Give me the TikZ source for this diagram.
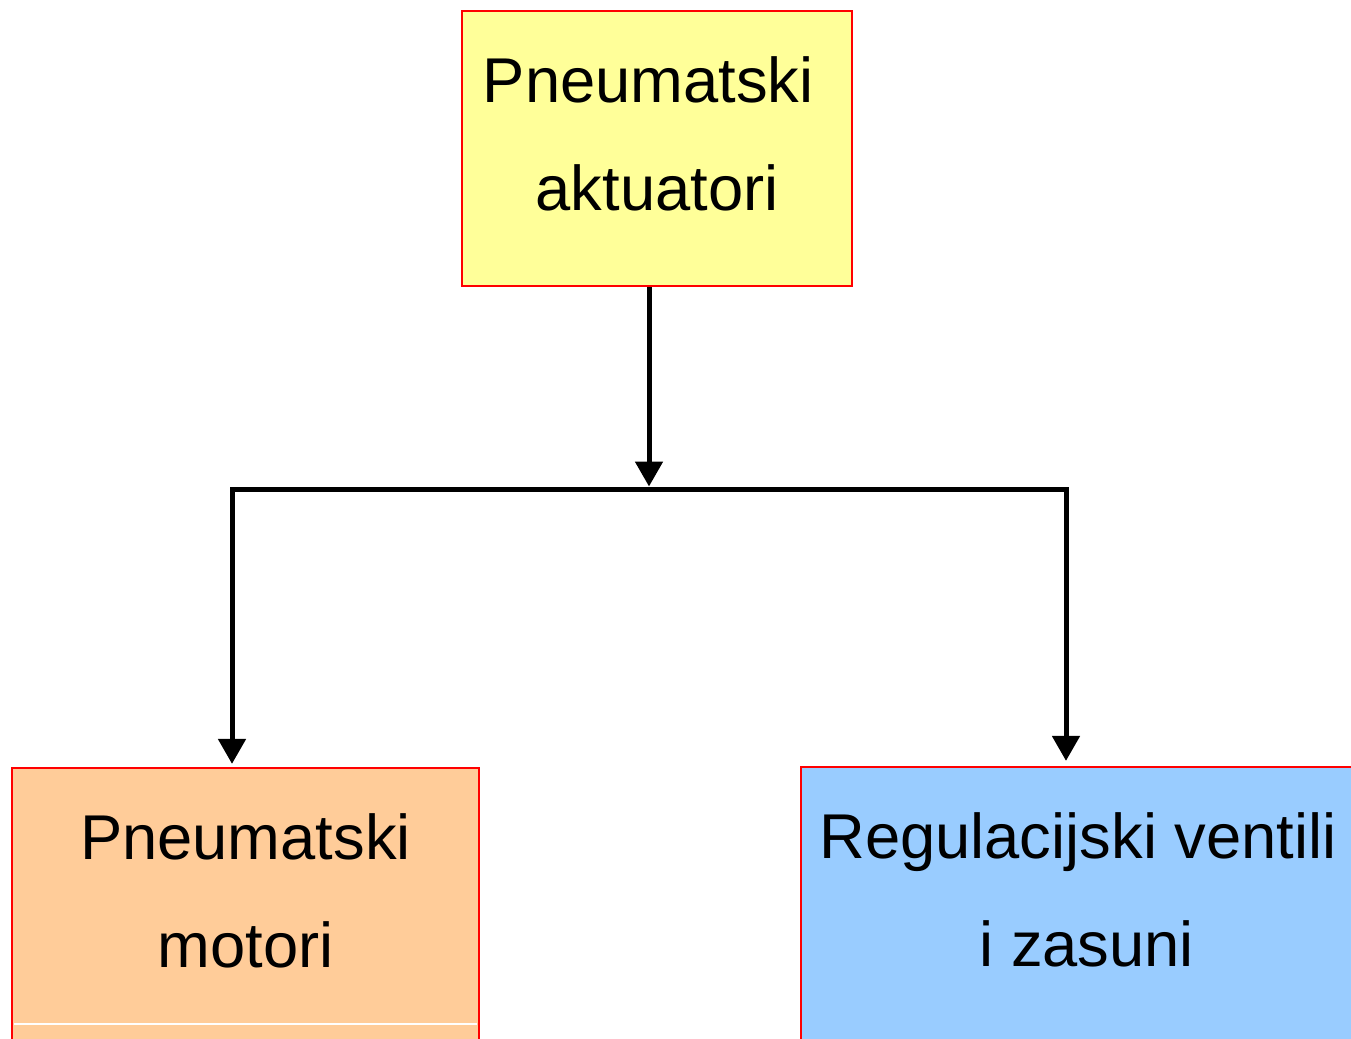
\documentclass[tikz,border=0pt]{standalone}
\usepackage{fontspec}
\setmainfont{Liberation Sans}
\usetikzlibrary{
  arrows.meta
}
\definecolor{boxyellow}{HTML}{FFFF99}
\definecolor{boxorange}{HTML}{FFCC99}
\definecolor{boxblue}{HTML}{99CCFF}
\newcommand\deepstrut{\rule[-0.30cm]{0pt}{0.30cm}}

\begin{document}
\begin{tikzpicture}[
  x=0.01cm,
  y=-0.01cm,
  box/.style={draw=red, line width=0.6pt, align=center, minimum height=2.75cm,
    font=\fontsize{18}{30.7}\selectfont},
  link/.style={line width=0.05cm},
  arr/.style={link, -{Triangle[length=0.25cm,width=0.27cm]}},
]
\clip (0,0) rectangle (1351,1038);
\node[box, fill=boxyellow, minimum width=3.9cm] (aktuatori) at (657,148.5) {Pneumatski\hphantom{\ }\\aktuatori\deepstrut};
\node[box, fill=boxorange, minimum width=4.67cm] (motori) at (245.5,905.5) {Pneumatski\\motori\deepstrut};
\node[box, fill=boxblue, minimum width=5.54cm] (ventili) at (1078,904.5) {Regulacijski ventili\\\hphantom{\ }i zasuni\deepstrut};
\draw[white, line width=0.4pt] (14,1024) -- (477,1024);
\coordinate (fork) at (649,489);
\coordinate (forkl) at (232,489);
\coordinate (forkr) at (1066,489);
\draw[arr, shorten >=0.025cm] (fork |- aktuatori.south) -- (fork);
\draw[link, line cap=rect] (forkl) -- (forkr);
\draw[arr, shorten >=0.03cm] (forkl) -- (forkl |- motori.north);
\draw[arr, shorten >=0.05cm] (forkr) -- (forkr |- ventili.north);
\end{tikzpicture}
\end{document}
